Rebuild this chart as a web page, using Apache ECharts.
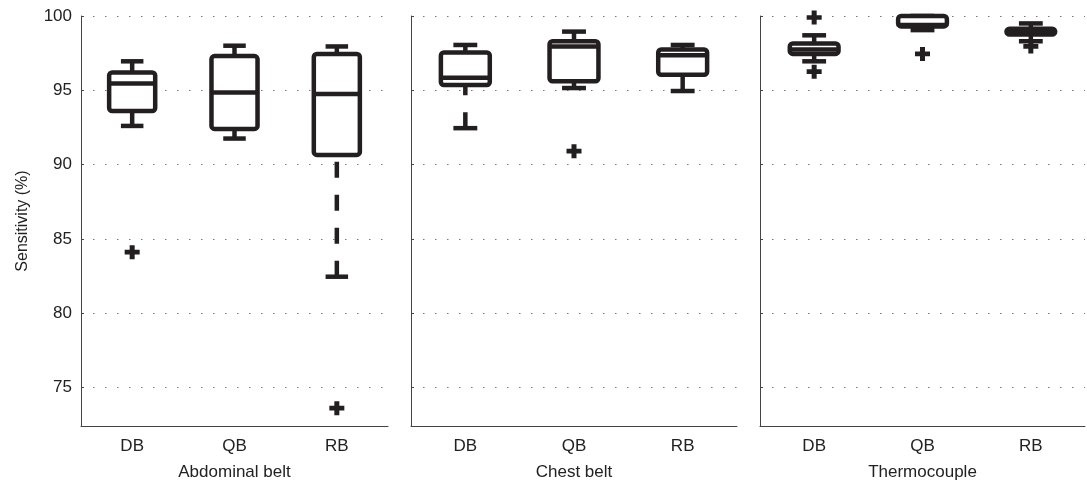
<!DOCTYPE html>
<html lang="en">
<head>
  <meta charset="UTF-8">
  <title>Sensitivity boxplots</title>
  <style>
    html, body { margin: 0; padding: 0; background: #fff; }
  </style>
</head>
<body>
<div id="main" style="width:1087px; height:486px;"></div>

<script src="https://cdn.jsdelivr.net/npm/echarts@6/dist/echarts.min.js"></script>

<script>
  var panelNames = ['Abdominal belt', 'Chest belt', 'Thermocouple'];
  var methods = ['DB', 'QB', 'RB'];
  var yTicks = [75, 80, 85, 90, 95, 100];

  // [lower whisker, Q1, median, Q3, upper whisker]
  var abdominalBox = [
    [92.6, 93.6, 95.45, 96.2, 96.95],
    [91.75, 92.4, 94.85, 97.3, 98.0],
    [82.45, 90.65, 94.75, 97.45, 97.95]
  ];
  var chestBox = [
    [92.45, 95.35, 95.85, 97.55, 98.05],
    [95.15, 95.6, 97.95, 98.3, 98.95],
    [94.95, 96.05, 97.35, 97.75, 98.05]
  ];
  var thermoBox = [
    [96.95, 97.45, 97.75, 98.15, 98.7],
    [99.05, 99.3, 99.4, 100.0, 100.0],
    [98.3, 98.75, 98.95, 99.15, 99.5]
  ];

  // outliers: [method index, value]
  var abdominalOut = [[0, 84.1], [2, 73.6]];
  var chestOut = [[1, 90.9]];
  var thermoOut = [[0, 99.9], [0, 96.25], [1, 97.45], [2, 97.95]];

  var boxes = [abdominalBox, chestBox, thermoBox];
  var outliers = [abdominalOut, chestOut, thermoOut];

  var ink = '#231f20';
  var lw = 4.5;
  var plusPath = 'path://M5,0h5v5h5v5h-5v5h-5v-5h-5v-5h5z';

  var gridPos = [
    { left: 81, top: 16, width: 307, height: 413 },
    { left: 411, top: 16, width: 326, height: 413 },
    { left: 760, top: 16, width: 325, height: 413 }
  ];

  function renderBox(params, api) {
    var x = api.value(0);
    var lo = api.value(1), q1 = api.value(2), med = api.value(3), q3 = api.value(4), hi = api.value(5);
    var band = api.size([1, 0])[0];
    var half = band * 0.225;
    var capHalf = band * 0.11;
    var pLo = api.coord([x, lo]);
    var pQ1 = api.coord([x, q1]);
    var pMed = api.coord([x, med]);
    var pQ3 = api.coord([x, q3]);
    var pHi = api.coord([x, hi]);
    var cx = pMed[0];
    var stroke = { stroke: ink, lineWidth: lw, fill: null };
    var dashed = { stroke: ink, lineWidth: lw, lineDash: [16, 17], fill: null };
    return {
      type: 'group',
      children: [
        // whiskers drawn from the cap towards the box
        { type: 'line', shape: { x1: cx, y1: pLo[1], x2: cx, y2: pQ1[1] }, style: dashed },
        { type: 'line', shape: { x1: cx, y1: pHi[1], x2: cx, y2: pQ3[1] }, style: dashed },
        { type: 'line', shape: { x1: cx - capHalf, y1: pLo[1], x2: cx + capHalf, y2: pLo[1] }, style: stroke },
        { type: 'line', shape: { x1: cx - capHalf, y1: pHi[1], x2: cx + capHalf, y2: pHi[1] }, style: stroke },
        {
          type: 'rect',
          shape: { x: cx - half, y: pQ3[1], width: half * 2, height: pQ1[1] - pQ3[1], r: 3 },
          style: { stroke: ink, lineWidth: lw, fill: '#fff', lineJoin: 'round' }
        },
        { type: 'line', shape: { x1: cx - half, y1: pMed[1], x2: cx + half, y2: pMed[1] }, style: stroke }
      ]
    };
  }

  var grids = [], xAxes = [], yAxes = [], series = [];
  var font = 'Liberation Sans, Arial, Helvetica, sans-serif';

  panelNames.forEach(function (name, i) {
    grids.push(gridPos[i]);
    xAxes.push({
      type: 'category',
      gridIndex: i,
      data: methods,
      name: name,
      nameLocation: 'middle',
      nameGap: 38,
      nameTextStyle: { fontFamily: font, fontSize: 17, color: '#222' },
      axisLine: { lineStyle: { color: '#444', width: 1 } },
      axisTick: { inside: true, alignWithLabel: true, length: 5, lineStyle: { color: '#444' } },
      axisLabel: { fontFamily: font, fontSize: 17, color: '#222', margin: 12 },
      splitLine: { show: false }
    });
    yAxes.push({
      type: 'value',
      gridIndex: i,
      min: 72.4,
      max: 100,
      splitNumber: 5,
      name: i === 0 ? 'Sensitivity (%)' : '',
      nameLocation: 'middle',
      nameGap: 50,
      nameTextStyle: { fontFamily: font, fontSize: 16, color: '#222' },
      axisLine: { show: true, lineStyle: { color: '#444', width: 1 } },
      axisTick: { show: true, inside: true, length: 3, lineStyle: { color: '#444' } },
      axisLabel: {
        show: i === 0,
        fontFamily: font,
        fontSize: 17,
        color: '#222',
        margin: 9,
        formatter: function (v) { return yTicks.indexOf(v) >= 0 ? String(v) : ''; }
      },
      splitLine: { show: true, lineStyle: { color: '#777', width: 1, type: [1.5, 10.5] } }
    });
    series.push({
      type: 'custom',
      xAxisIndex: i,
      yAxisIndex: i,
      renderItem: renderBox,
      encode: { x: 0, y: [1, 2, 3, 4, 5] },
      data: boxes[i].map(function (b, k) { return [k].concat(b); }),
      z: 3
    });
    series.push({
      type: 'scatter',
      xAxisIndex: i,
      yAxisIndex: i,
      symbol: plusPath,
      symbolSize: [15, 14],
      itemStyle: { color: ink, opacity: 1 },
      data: outliers[i],
      z: 4
    });
  });

  var chart = echarts.init(document.getElementById('main'), null, { renderer: 'canvas' });
  chart.setOption({
    backgroundColor: '#fff',
    animation: false,
    grid: grids,
    xAxis: xAxes,
    yAxis: yAxes,
    series: series
  });
</script>
</body>
</html>
